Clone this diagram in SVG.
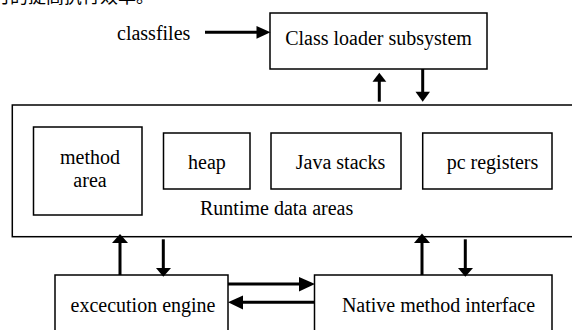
<svg xmlns="http://www.w3.org/2000/svg" width="572" height="330" viewBox="0 0 572 330">
<style>
.box{fill:#fff;stroke:#000;stroke-width:1.5}
.t{font-family:"Liberation Serif","Times New Roman",serif;font-size:20px;fill:#000}
.m{text-anchor:middle}
.ln{stroke:#000;stroke-width:3;fill:none}
.hd{fill:#000;stroke:none}
</style>
<rect width="572" height="330" fill="#fff"/>
<text x="-8" y="3" style="font-family:'Noto Sans CJK SC',sans-serif;font-size:18px" fill="#000">时的提高执行效率。</text>
<g id="classfiles"><text class="t" x="117" y="40">classfiles</text></g>
<g id="classloader"><rect class="box" x="270" y="13" width="217" height="56"/><text class="t m" x="378.5" y="45">Class loader subsystem</text></g>
<g id="runtime"><rect class="box" x="12.3" y="105" width="570" height="131.7"/><text class="t" x="200" y="215">Runtime data areas</text></g>
<g id="methodarea"><rect class="box" x="33.5" y="127" width="108.5" height="88"/><text class="t m" x="90" y="164">method</text><text class="t m" x="90" y="187">area</text></g>
<g id="heap"><rect class="box" x="163.5" y="133" width="86.5" height="56"/><text class="t m" x="207" y="169">heap</text></g>
<g id="javastacks"><rect class="box" x="271" y="133" width="130" height="56"/><text class="t m" x="340.5" y="169">Java stacks</text></g>
<g id="pcregisters"><rect class="box" x="422.7" y="133" width="129.3" height="56"/><text class="t m" x="492.5" y="169">pc registers</text></g>
<g id="engine"><rect class="box" x="55" y="275" width="173" height="70"/><text class="t m" x="143" y="312">excecution engine</text></g>
<g id="native"><rect class="box" x="314.5" y="275" width="237.5" height="70"/><text class="t m" x="438.5" y="312">Native method interface</text></g>
<g id="connectors">
<line class="ln" x1="205" y1="32.3" x2="259" y2="32.3"/><polygon class="hd" points="256.5,26 270.5,32.3 256.5,38.8"/>
<line class="ln" x1="379.3" y1="101.7" x2="379.3" y2="80"/><polygon class="hd" points="372.5,81.7 379.3,72.7 386.3,81.7"/>
<line class="ln" x1="422.7" y1="69" x2="422.7" y2="93"/><polygon class="hd" points="415.5,91.7 422.7,101.7 430,91.7"/>
<line class="ln" x1="120" y1="275" x2="120" y2="241"/><polygon class="hd" points="112,243 120,234 128,243"/>
<line class="ln" x1="163.3" y1="239.3" x2="163.3" y2="270"/><polygon class="hd" points="156,268 163.3,276.7 171,268"/>
<line class="ln" x1="422" y1="275" x2="422" y2="241"/><polygon class="hd" points="414,243 422,233.5 430,243"/>
<line class="ln" x1="465.3" y1="239.3" x2="465.3" y2="270"/><polygon class="hd" points="458,268 465.3,276.7 473,268"/>
<line class="ln" x1="228" y1="284" x2="301" y2="284"/><polygon class="hd" points="299,277 315,284 299,291.5"/>
<line class="ln" x1="314.5" y1="302.3" x2="241" y2="302.3"/><polygon class="hd" points="243,295.5 228,302.3 243,309.5"/>
</g>
</svg>
